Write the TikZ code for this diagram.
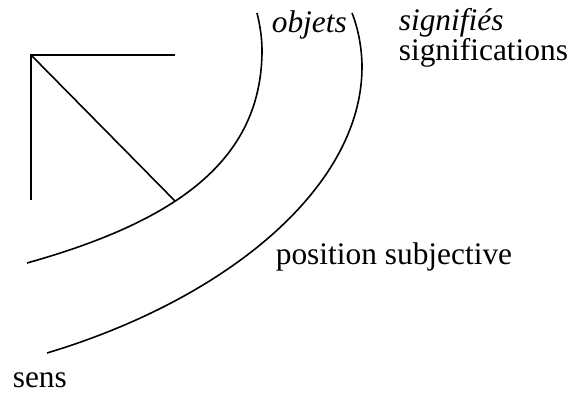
\documentclass[tikz,border=0pt]{standalone}
\usepackage{fontspec}
\setmainfont{Liberation Serif}

\begin{document}
\begin{tikzpicture}[x=0.5pt,y=-0.5pt,line width=0.8pt,
  every node/.style={inner sep=0pt,anchor=base west,font=\fontsize{15.7}{18}\selectfont}]
\useasboundingbox (0,0) rectangle (572,394);

% Corner lines
\coordinate (corner) at (31,55);
\coordinate (top end) at (175,55);
\coordinate (left end) at (31,200);
\coordinate (foot) at (175,201);
\draw (top end) -- (corner) -- (left end);
\draw (corner) -- (foot);

% Inner arc
\draw (257,13) .. controls (260,25) and (262,38) .. (262,50)
  .. controls (262,160) and (177,221) .. (27,263);

% Outer arc
\draw (352,13) .. controls (358,28) and (362,48) .. (362,67)
  .. controls (362,187) and (227,299) .. (47,353);

% Labels
\node (objets) at (271,33) {\itshape objets};
\node (signifies) at (398,31) {\itshape signifiés};
\node (significations) at (398,61) {significations};
\node (position) at (275,265) {position subjective};
\node (sens) at (12,388) {sens};
\end{tikzpicture}
\end{document}
